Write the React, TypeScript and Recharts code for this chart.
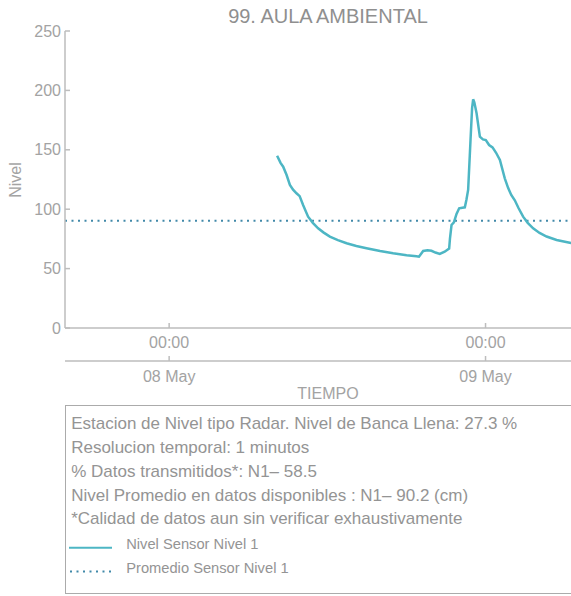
import React from 'react';
import { Line, LineChart, ReferenceLine, XAxis, YAxis } from 'recharts';

// horas relativas a 08 May 00:00
const HORAS = [
  8.19, 8.45, 8.65, 8.91, 9.16, 9.4, 9.66, 9.9, 10.16, 10.54, 10.9, 11.3, 11.7, 12.19, 12.8,
  13.46, 14.2, 14.97, 16.0, 16.99, 18.01, 18.77, 18.95, 19.27, 19.6, 19.9, 20.2, 20.53, 20.9,
  21.24, 21.3, 21.42, 21.6, 21.8, 22.0, 22.43, 22.55, 22.68, 22.86, 22.98, 23.06, 23.15, 23.32,
  23.57, 23.8, 24.02, 24.27, 24.53, 24.8, 25.09, 25.46, 25.71, 25.95, 26.22, 26.5, 26.85, 27.2,
  27.61, 28.1, 28.63, 29.39, 30.39, 31.0
];
const NIVEL = [
  145, 139, 135.8, 128.8, 120.4, 116.5, 113.4, 111, 103.5, 93.7, 88.5, 83.9, 80.5, 76.9, 74,
  71.3, 69, 67.1, 64.8, 62.9, 61.2, 60.3, 60, 64.8, 65.4, 65, 63.5, 62.3, 64.2,
  66.8, 75, 86.7, 89, 96, 100.8, 101.6, 108, 116.2, 158, 185, 192.5, 190, 180.8,
  161, 158.8, 158.2, 154, 152, 147.5, 141.4, 126, 118, 112, 107.5, 101, 93.7, 88.5,
  83.9, 80, 77, 74.1, 71.8, 70.5
];
const PROMEDIO = 90.2;

const Y_TICKS = [0, 50, 100, 150, 200, 250];
const X_TICKS = [0, 24];
const HORA_LABELS = ['00:00', '00:00'];
const FECHA_LABELS = ['08 May', '09 May'];

const TITULO = '99. AULA AMBIENTAL';
const NOTAS = [
  'Estacion de Nivel tipo Radar. Nivel de Banca Llena: 27.3 %',
  'Resolucion temporal: 1 minutos',
  '% Datos transmitidos*: N1\u2013 58.5',
  'Nivel Promedio en datos disponibles : N1\u2013 90.2 (cm)',
  '*Calidad de datos aun sin verificar exhaustivamente',
];
const SERIES = ['Nivel Sensor Nivel 1', 'Promedio Sensor Nivel 1'];

const FONT = '"Liberation Sans", Arial, Helvetica, sans-serif';
const TEAL = '#4db6c4';
const AVG = '#4189a9';
const AXIS = '#bdbdbd';
const TICK_TXT = '#a3a3a3';
const TXT = '#949494';

const datos = HORAS.map((h, i) => ({ h, nivel: NIVEL[i] }));

const NivelLabel = () => (
  <text x={21} y={180} transform="rotate(-90 21 180)" textAnchor="middle" fill={TICK_TXT} fontSize={16}>
    Nivel
  </text>
);

export default function App() {
  return (
    <div style={{ position: 'fixed', left: 0, top: 0, width: 571, height: 596, overflow: 'hidden', background: '#fff', fontFamily: FONT }}>
      <div style={{ position: 'absolute', left: 0, top: 0 }}>
        <LineChart width={600} height={406} data={datos} margin={{ top: 31, right: 9, bottom: 0, left: 0 }} style={{ fontFamily: FONT }}>
          <XAxis
            dataKey="h" type="number" domain={[-7.9, 32]} ticks={X_TICKS} height={33}
            tickFormatter={(v) => HORA_LABELS[X_TICKS.indexOf(v)]}
            tickSize={-5} tickMargin={14}
            stroke={AXIS} strokeWidth={1.5}
            tick={{ fill: TICK_TXT, fontSize: 16 }}
            allowDataOverflow
          />
          <XAxis
            xAxisId="fecha" dataKey="h" type="number" domain={[-7.9, 32]} ticks={X_TICKS} height={45}
            tickFormatter={(v) => FECHA_LABELS[X_TICKS.indexOf(v)]}
            tickSize={-5} tickMargin={15}
            stroke={AXIS} strokeWidth={1.5}
            tick={{ fill: TICK_TXT, fontSize: 16 }}
            label={{ value: 'TIEMPO', position: 'insideBottom', offset: 7, fill: TICK_TXT, fontSize: 16 }}
            allowDataOverflow
          />
          <YAxis
            domain={[0, 250]} ticks={Y_TICKS} width={65}
            tickSize={-5} tickMargin={9}
            stroke={AXIS} strokeWidth={1.5}
            tick={{ fill: TICK_TXT, fontSize: 16 }}
            label={<NivelLabel />}
          />
          <ReferenceLine y={PROMEDIO} stroke={AVG} strokeWidth={2} strokeDasharray="2 4.5" />
          <Line type="linear" dataKey="nivel" stroke={TEAL} strokeWidth={2.5} dot={false} isAnimationActive={false} />
        </LineChart>
      </div>

      <div style={{ position: 'absolute', left: 65, width: 526, top: 5.8, fontSize: 20, lineHeight: '20px', textAlign: 'center', color: '#8f8f8f' }}>
        {TITULO}
      </div>

      <div style={{ position: 'absolute', left: 65, top: 405, width: 540, height: 189, border: '1.5px solid #ababab', boxSizing: 'border-box' }}>
        <div style={{ position: 'absolute', left: 5.2, top: 6.3, fontSize: 17, lineHeight: '23.75px', color: TXT, whiteSpace: 'nowrap' }}>
          {NOTAS.map((n) => <div key={n}>{n}</div>)}
        </div>
        <svg style={{ position: 'absolute', left: 2.8, top: 130, width: 46, height: 40 }}>
          <line x1={0} x2={43} y1={11.8} y2={11.8} stroke={TEAL} strokeWidth={2} />
          <line x1={1} x2={44} y1={35.5} y2={35.5} stroke={AVG} strokeWidth={2} strokeDasharray="2 4.5" />
        </svg>
        <div style={{ position: 'absolute', left: 60.2, top: 130.7, fontSize: 14.7, lineHeight: '14.7px', color: TXT, whiteSpace: 'nowrap' }}>{SERIES[0]}</div>
        <div style={{ position: 'absolute', left: 60.2, top: 154.7, fontSize: 14.7, lineHeight: '14.7px', color: TXT, whiteSpace: 'nowrap' }}>{SERIES[1]}</div>
      </div>
    </div>
  );
}
